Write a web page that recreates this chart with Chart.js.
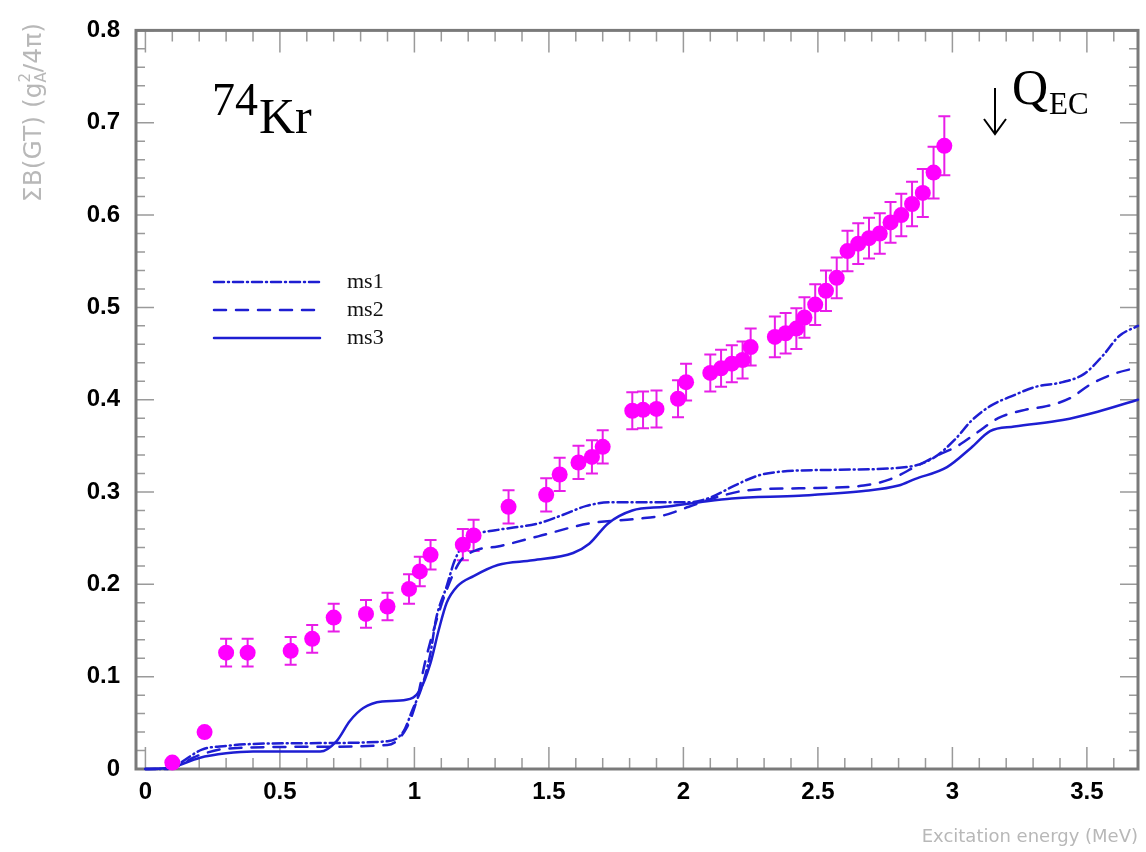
<!DOCTYPE html>
<html>
<head>
<meta charset="utf-8">
<title>74Kr B(GT)</title>
<script src="https://cdn.jsdelivr.net/npm/chart.js@4.4.0/dist/chart.umd.min.js"></script>
<style>
    html, body { margin: 0; padding: 0; background: #fff; }
    #wrap { width: 1146px; height: 852px; position: relative; }
</style>
</head>
<body>
<div id="wrap"><canvas id="bgtChart"></canvas></div>
<script>
// Measured points (excitation energy in MeV, summed B(GT), error)
const expX = [0.10, 0.22, 0.30, 0.38, 0.54, 0.62, 0.70, 0.82, 0.90, 0.98, 1.02, 1.06, 1.18, 1.22,
    1.35, 1.49, 1.54, 1.61, 1.66, 1.70, 1.81, 1.85, 1.90, 1.98, 2.01, 2.10, 2.14, 2.18, 2.22, 2.25,
    2.34, 2.38, 2.42, 2.45, 2.49, 2.53, 2.57, 2.61, 2.65, 2.69, 2.73, 2.77, 2.81, 2.85, 2.89, 2.93, 2.97];
const expY = [0.007, 0.040, 0.126, 0.126, 0.128, 0.141, 0.164, 0.168, 0.176, 0.195, 0.214, 0.232, 0.243, 0.253,
    0.284, 0.297, 0.319, 0.332, 0.338, 0.349, 0.388, 0.389, 0.390, 0.401, 0.419, 0.429, 0.434, 0.439, 0.443, 0.457,
    0.468, 0.472, 0.477, 0.489, 0.503, 0.518, 0.532, 0.561, 0.569, 0.575, 0.580, 0.592, 0.600, 0.612, 0.624, 0.646, 0.675];
const expErr = [0, 0, 0.015, 0.015, 0.015, 0.015, 0.015, 0.015, 0.015, 0.016, 0.016, 0.016, 0.017, 0.017,
    0.018, 0.018, 0.018, 0.018, 0.018, 0.018, 0.020, 0.020, 0.020, 0.020, 0.020, 0.020, 0.020, 0.020, 0.020, 0.020,
    0.022, 0.022, 0.022, 0.022, 0.022, 0.022, 0.022, 0.022, 0.022, 0.022, 0.022, 0.022, 0.023, 0.024, 0.026, 0.028, 0.032];

// Calculations ms1, ms2, ms3
const ms1X = [0, 0.08, 0.12, 0.21, 0.30, 0.39, 0.60, 0.90, 0.96, 0.99, 1.03, 1.06, 1.08, 1.12, 1.15, 1.19, 1.24,
    1.31, 1.46, 1.55, 1.64, 1.73, 1.93, 2.02, 2.10, 2.19, 2.28, 2.36, 2.55, 2.83, 2.93, 3.01, 3.07, 3.14, 3.23,
    3.31, 3.41, 3.49, 3.56, 3.62, 3.69];
const ms1Y = [0, 0, 0.005, 0.021, 0.025, 0.027, 0.028, 0.030, 0.041, 0.062, 0.091, 0.126, 0.162, 0.198, 0.226, 0.246, 0.255,
    0.259, 0.266, 0.275, 0.285, 0.289, 0.289, 0.289, 0.294, 0.307, 0.318, 0.322, 0.324, 0.327, 0.337, 0.357, 0.377, 0.393, 0.405,
    0.414, 0.419, 0.428, 0.448, 0.469, 0.480];

const ms2X = [0, 0.08, 0.20, 0.30, 0.60, 0.90, 0.97, 1.01, 1.04, 1.08, 1.12, 1.17, 1.23, 1.31, 1.46, 1.65, 1.83, 1.93,
    2.02, 2.12, 2.24, 2.43, 2.67, 2.77, 2.86, 2.94, 3.02, 3.09, 3.17, 3.27, 3.35, 3.44, 3.51, 3.60, 3.69];
const ms2Y = [0, 0, 0.015, 0.022, 0.024, 0.026, 0.044, 0.076, 0.116, 0.159, 0.194, 0.225, 0.237, 0.241, 0.252, 0.266, 0.271, 0.275,
    0.284, 0.294, 0.302, 0.304, 0.307, 0.314, 0.327, 0.339, 0.350, 0.364, 0.380, 0.389, 0.393, 0.402, 0.416, 0.428, 0.435];

const ms3X = [0, 0.10, 0.20, 0.30, 0.40, 0.65, 0.71, 0.76, 0.81, 0.88, 0.97, 1.02, 1.06, 1.09, 1.12, 1.16, 1.22,
    1.31, 1.44, 1.59, 1.65, 1.72, 1.81, 1.93, 2.06, 2.18, 2.43, 2.67, 2.80, 2.86, 2.98, 3.07, 3.14, 3.23, 3.41, 3.54, 3.69];
const ms3Y = [0, 0.002, 0.012, 0.017, 0.019, 0.019, 0.030, 0.052, 0.066, 0.073, 0.075, 0.085, 0.115, 0.150, 0.180, 0.198, 0.209,
    0.221, 0.226, 0.234, 0.244, 0.266, 0.280, 0.284, 0.289, 0.293, 0.296, 0.301, 0.307, 0.314, 0.327, 0.348, 0.366, 0.371, 0.378, 0.387, 0.400];

const seriesLabels = ['ms1', 'ms2', 'ms3'];

const lineBlue = '#1e1ed2';
const magenta = '#ff00ff';

function toPoints(xs, ys) {
    return xs.map((x, i) => ({ x: x, y: ys[i] }));
}

function curve(label, xs, ys, dash) {
    return {
        label,
        data: toPoints(xs, ys),
        showLine: true,
        borderColor: lineBlue,
        backgroundColor: lineBlue,
        borderWidth: 2.5,
        borderDash: dash,
        borderCapStyle: 'round',
        cubicInterpolationMode: 'monotone',
        pointRadius: 0,
        clip: 4,
        order: 2
    };
}

// Frame with inward ticks (ROOT style), drawn under the data
const frame = {
    id: 'frame',
    beforeDatasetsDraw(chart) {
        const { ctx, chartArea: a, scales: { x, y } } = chart;
        ctx.save();
        ctx.strokeStyle = '#9a9a9a';
        ctx.lineWidth = 1.5;
        ctx.beginPath();
        for (let i = 0; i <= 36; i++) {
            const px = x.getPixelForValue(i * 0.1);
            const len = i % 5 === 0 ? 22 : 11;
            ctx.moveTo(px, a.bottom); ctx.lineTo(px, a.bottom - len);
            ctx.moveTo(px, a.top); ctx.lineTo(px, a.top + len);
        }
        for (let i = 0; i <= 40; i++) {
            const py = y.getPixelForValue(i * 0.02);
            const len = i % 5 === 0 ? 18 : 9;
            ctx.moveTo(a.left, py); ctx.lineTo(a.left + len, py);
            ctx.moveTo(a.right, py); ctx.lineTo(a.right - len, py);
        }
        ctx.stroke();

        ctx.strokeStyle = '#7a7a7a';
        ctx.lineWidth = 3;
        ctx.strokeRect(a.left, a.top, a.right - a.left, a.bottom - a.top);
        ctx.restore();
    }
};

// Error bars drawn under the dots
const errorBars = {
    id: 'errorBars',
    beforeDatasetsDraw(chart) {
        const { ctx, scales: { x, y } } = chart;
        ctx.save();
        ctx.strokeStyle = '#e81ee8';
        ctx.lineWidth = 2;
        expX.forEach((ex, i) => {
            if (!expErr[i]) return;
            const px = x.getPixelForValue(ex);
            const top = y.getPixelForValue(expY[i] + expErr[i]);
            const bot = y.getPixelForValue(expY[i] - expErr[i]);
            ctx.beginPath();
            ctx.moveTo(px, top); ctx.lineTo(px, bot);
            ctx.moveTo(px - 6, top); ctx.lineTo(px + 6, top);
            ctx.moveTo(px - 6, bot); ctx.lineTo(px + 6, bot);
            ctx.stroke();
        });
        ctx.restore();
    }
};

// Titles, legend and labels
const decorations = {
    id: 'decorations',
    afterDraw(chart) {
        const { ctx, chartArea: a } = chart;
        ctx.save();

        // x title
        ctx.fillStyle = '#b8b8b8';
        ctx.font = '18px "DejaVu Sans"';
        ctx.textAlign = 'right';
        ctx.textBaseline = 'alphabetic';
        ctx.fillText('Excitation energy (MeV)', a.right, 842);

        // y title (rotated, anchored at top)
        ctx.save();
        ctx.translate(41, 23);
        ctx.rotate(-Math.PI / 2);
        ctx.textAlign = 'left';
        const big = '25px "DejaVu Sans"';
        const small = '15px "DejaVu Sans"';
        ctx.font = big;
        const w1 = ctx.measureText('ΣB(GT) (g').width;
        const w3 = ctx.measureText('/4π)').width;
        ctx.font = small;
        const w2 = ctx.measureText('A').width;
        let cx = -(w1 + w2 + w3);
        ctx.font = big;
        ctx.fillText('ΣB(GT) (g', cx, 0);
        cx += w1;
        ctx.font = small;
        ctx.fillText('2', cx, -11);
        ctx.fillText('A', cx, 5);
        cx += w2;
        ctx.font = big;
        ctx.fillText('/4π)', cx, 0);
        ctx.restore();

        // nucleus label
        ctx.fillStyle = '#000';
        ctx.textAlign = 'left';
        ctx.font = '46px "Liberation Serif"';
        ctx.fillText('74', 212, 115);
        ctx.font = '50px "Liberation Serif"';
        ctx.fillText('Kr', 259, 133);

        // Q_EC marker
        ctx.strokeStyle = '#000';
        ctx.lineWidth = 2;
        ctx.beginPath();
        ctx.moveTo(995, 88); ctx.lineTo(995, 134);
        ctx.moveTo(984, 119); ctx.lineTo(995, 134); ctx.lineTo(1006, 119);
        ctx.stroke();
        ctx.font = '50px "Liberation Serif"';
        ctx.fillText('Q', 1012, 104);
        ctx.font = '31px "Liberation Serif"';
        ctx.fillText('EC', 1049, 114);

        // legend
        const legendY = [282, 310, 338];
        chart.data.datasets.slice(0, 3).forEach((ds, i) => {
            ctx.strokeStyle = ds.borderColor;
            ctx.lineWidth = ds.borderWidth;
            ctx.lineCap = 'round';
            ctx.setLineDash(ds.borderDash || []);
            ctx.beginPath();
            ctx.moveTo(214, legendY[i]);
            ctx.lineTo(320, legendY[i]);
            ctx.stroke();
            ctx.setLineDash([]);
            ctx.fillStyle = '#111';
            ctx.font = '22px "Liberation Serif"';
            ctx.textBaseline = 'middle';
            ctx.fillText(seriesLabels[i], 347, legendY[i]);
        });

        ctx.restore();
    }
};

const chart = new Chart(document.getElementById('bgtChart').getContext('2d'), {
    type: 'scatter',
    data: {
        datasets: [
            curve(seriesLabels[0], ms1X, ms1Y, [10, 4, 1, 4]),
            curve(seriesLabels[1], ms2X, ms2Y, [12, 10]),
            curve(seriesLabels[2], ms3X, ms3Y, []),
            {
                label: 'data',
                data: toPoints(expX, expY),
                pointRadius: 8,
                pointHoverRadius: 8,
                pointBackgroundColor: magenta,
                pointBorderColor: magenta,
                pointBorderWidth: 0,
                showLine: false,
                clip: 10,
                order: 1
            }
        ]
    },
    options: {
        responsive: true,
        maintainAspectRatio: false,
        animation: false,
        layout: { padding: { top: 23, right: 6, left: 0, bottom: 0 } },
        plugins: {
            legend: { display: false },
            tooltip: { enabled: false }
        },
        scales: {
            x: {
                type: 'linear',
                min: -0.035,
                max: 3.69,
                afterFit: s => { s.height = 83; },
                afterBuildTicks: s => { s.ticks = [0, 0.5, 1, 1.5, 2, 2.5, 3, 3.5].map(v => ({ value: v })); },
                grid: { display: false, drawTicks: false },
                border: { display: false },
                ticks: {
                    padding: 9,
                    color: '#000',
                    font: { family: '"Liberation Sans"', weight: 'bold', size: 24 },
                    callback: v => String(v)
                }
            },
            y: {
                type: 'linear',
                min: 0,
                max: 0.8,
                afterFit: s => { s.width = 136; },
                grid: { display: false, drawTicks: false },
                border: { display: false },
                ticks: {
                    stepSize: 0.1,
                    padding: 16,
                    color: '#000',
                    font: { family: '"Liberation Sans"', weight: 'bold', size: 24 },
                    callback: v => String(Math.round(v * 10) / 10)
                }
            }
        }
    },
    plugins: [frame, errorBars, decorations]
});
</script>
</body>
</html>
